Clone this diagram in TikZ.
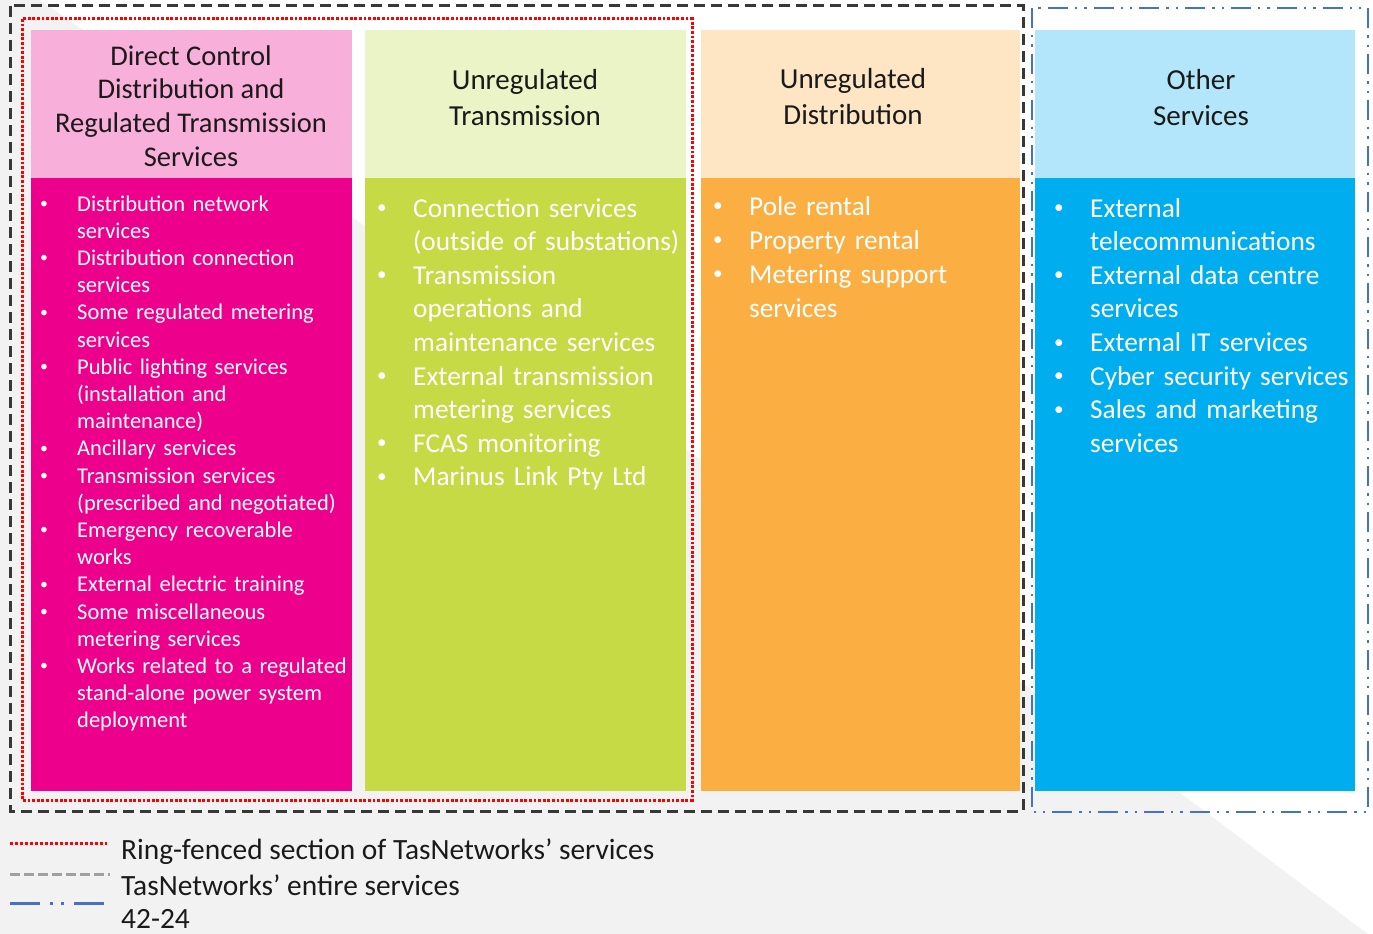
\documentclass[tikz,border=0pt]{standalone}
\usepackage{fontspec}
\usepackage{graphicx}
\setmainfont{Carlito}
\definecolor{bggray}{HTML}{F2F2F2}
\definecolor{pinkH}{HTML}{F8AFD9}
\definecolor{pinkB}{HTML}{EC008C}
\definecolor{greenH}{HTML}{EBF4C6}
\definecolor{greenB}{HTML}{C5DA45}
\definecolor{orangeH}{HTML}{FEE5C4}
\definecolor{orangeB}{HTML}{FBAE42}
\definecolor{blueH}{HTML}{B3E6FA}
\definecolor{blueB}{HTML}{00AEEF}
\definecolor{hdrtxt}{HTML}{1A1A1A}
\definecolor{dkgray}{HTML}{383838}
\definecolor{ltgray}{HTML}{A0A0A0}
\definecolor{bordblue}{HTML}{4472C4}
\newcommand\smbullet{\raisebox{0.12em}{\scalebox{0.7}{\textbullet}}}
\newcommand\bitem[2]{\noindent\hangindent=#1\hangafter=1\makebox[#1][l]{\smbullet}#2}
\tikzset{
  hdr/.style={align=center, text=hdrtxt, inner sep=0pt},
  lst/.style={anchor=base west, inner sep=0pt, text=white},
  ring/.style={red, line width=3pt, dash pattern=on 2.8pt off 1.8pt},
  entire/.style={dkgray, line width=3pt, dash pattern=on 11pt off 6pt},
  other/.style={bordblue, line width=2.6pt, dash pattern=on 20pt off 7pt on 2.4pt off 7pt on 2.4pt off 7pt},
  legtxt/.style={anchor=base west, inner sep=0pt, text=hdrtxt, font=\fontsize{29.4}{34}\selectfont}
}
\begin{document}
\begin{tikzpicture}[x=1pt,y=-1pt]
\useasboundingbox (0,0) rectangle (1373,934);
\fill[bggray] (0,0) rectangle (1373,934);
\fill[white] (40,0) -- (1373,0) -- (1373,934) -- (1368,934) -- (1186,797) -- cycle;
% column boxes
\fill[pinkH] (31,30) rectangle (352,178);
\fill[pinkB] (31,178) rectangle (352,791);
\fill[greenH] (365,30) rectangle (686,178);
\fill[greenB] (365,178) rectangle (686,791);
\fill[orangeH] (701,30) rectangle (1020,178);
\fill[orangeB] (701,178) rectangle (1020,791);
\fill[blueH] (1035,30) rectangle (1355,178);
\fill[blueB] (1035,178) rectangle (1355,791);
% borders
\draw[entire] (10,6) rectangle (1023,811);
\draw[ring] (22,19) rectangle (692,800);
\draw[other] (1032,8) rectangle (1368,812);
% headers
\node[hdr, font=\fontsize{28.5}{33.7}\selectfont] (h1) at (191,106) {Direct Control\\Distribution and\\Regulated Transmission\\Services};
\node[hdr, font=\fontsize{29}{36}\selectfont] (h2) at (525,98) {Unregulated\\Transmission};
\node[hdr, font=\fontsize{29}{36}\selectfont] (h3) at (853,97) {Unregulated\\Distribution};
\node[hdr, font=\fontsize{29}{36}\selectfont] (h4) at (1201,98) {Other\\Services};
% lists
\node[lst, text width=320pt, font=\fontsize{22.5}{27.2}\selectfont] (l1) at (40,211) {%
\bitem{37pt}{Distribution network\newline services}\par
\bitem{37pt}{Distribution connection\newline services}\par
\bitem{37pt}{Some regulated metering\newline services}\par
\bitem{37pt}{Public lighting services\newline (installation and\newline maintenance)}\par
\bitem{37pt}{Ancillary services}\par
\bitem{37pt}{Transmission services\newline (prescribed and negotiated)}\par
\bitem{37pt}{Emergency recoverable\newline works}\par
\bitem{37pt}{External electric training}\par
\bitem{37pt}{Some miscellaneous\newline metering services}\par
\bitem{37pt}{Works related to a regulated\newline stand-alone power system\newline deployment}\par};
\node[lst, text width=330pt, font=\fontsize{27.3}{33.6}\selectfont] (l2) at (377,217) {%
\bitem{36pt}{Connection services\newline (outside of substations)}\par
\bitem{36pt}{Transmission\newline operations and\newline maintenance services}\par
\bitem{36pt}{External transmission\newline metering services}\par
\bitem{36pt}{FCAS monitoring}\par
\bitem{36pt}{Marinus Link Pty Ltd}\par};
\node[lst, text width=320pt, font=\fontsize{27.3}{34}\selectfont] (l3) at (713,215) {%
\bitem{36pt}{Pole rental}\par
\bitem{36pt}{Property rental}\par
\bitem{36pt}{Metering support\newline services}\par};
\node[lst, text width=330pt, font=\fontsize{27.3}{33.6}\selectfont] (l4) at (1054,217) {%
\bitem{36pt}{External\newline telecommunications}\par
\bitem{36pt}{External data centre\newline services}\par
\bitem{36pt}{External IT services}\par
\bitem{36pt}{Cyber security services}\par
\bitem{36pt}{Sales and marketing\newline services}\par};
% legend
\coordinate (r1) at (10,843); \coordinate (r2) at (107,843);
\coordinate (g1) at (10,874); \coordinate (g2) at (110,874);
\coordinate (b1) at (10,903); \coordinate (b2) at (110,903);
\draw[red, line width=3pt, dash pattern=on 3pt off 2pt] (r1) -- (r2);
\draw[ltgray, line width=3pt, dash pattern=on 10pt off 4pt] (g1) -- (g2);
\draw[bordblue, line width=3pt, dash pattern=on 30pt off 10pt on 3pt off 8pt on 3pt off 10pt] (b1) -- (b2);
\node[legtxt] (t1) at (121,859) {Ring-fenced section of TasNetworks’ services};
\node[legtxt] (t2) at (121,895) {TasNetworks’ entire services};
\node[legtxt] (t3) at (121,928) {42-24};
\end{tikzpicture}
\end{document}
